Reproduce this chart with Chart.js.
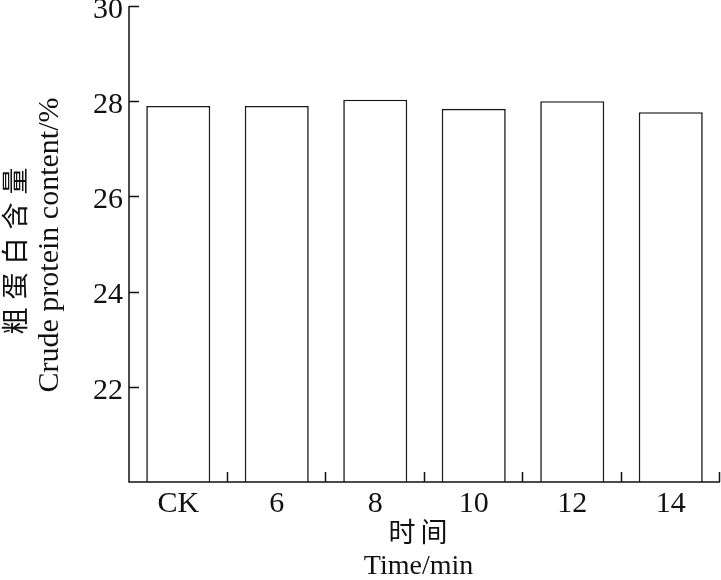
<!DOCTYPE html>
<html>
<head>
<meta charset="utf-8">
<script src="https://cdn.jsdelivr.net/npm/chart.js@4/dist/chart.umd.min.js"></script>
<style>
  html, body { margin: 0; padding: 0; background: #fff; }
  #wrap { width: 721px; height: 580px; }
</style>
</head>
<body>
<div id="wrap"><canvas id="c" width="721" height="580"></canvas></div>
<script>
const categories = ["CK", "6", "8", "10", "12", "14"];
const protein = [27.9, 27.9, 28.03, 27.84, 28.0, 27.77];
const yTicks = [22, 24, 26, 28, 30];

const serif = "'Liberation Serif', 'Noto Sans CJK SC', serif";
const ink = "#111";

// inward ticks, axis lines and the two-line titles
const axisDecor = {
  id: "axisDecor",
  afterDraw(chart) {
    const ctx = chart.ctx;
    const x = chart.scales.x, y = chart.scales.y;
    const area = chart.chartArea;
    ctx.save();
    ctx.strokeStyle = ink;
    ctx.lineWidth = 1.5;
    ctx.beginPath();
    ctx.moveTo(area.left, area.top);
    ctx.lineTo(area.left, area.bottom);
    ctx.lineTo(area.right, area.bottom);
    yTicks.forEach(v => {
      const py = Math.round(y.getPixelForValue(v)) + 0.5;
      ctx.moveTo(area.left, py);
      ctx.lineTo(area.left + 10, py);
    });
    const half = x.width / categories.length / 2;
    categories.forEach((c, i) => {
      const px = Math.round(x.getPixelForValue(i) + half) - 0.5;
      ctx.moveTo(px, area.bottom);
      ctx.lineTo(px, area.bottom - 10);
    });
    ctx.stroke();

    ctx.fillStyle = ink;
    ctx.textAlign = "center";
    ctx.textBaseline = "middle";
    const midX = (area.left + area.right) / 2 - 6;
    ctx.font = "27px " + serif;
    ctx.letterSpacing = "5px";
    ctx.fillText("时间", midX + 2, 535);
    ctx.letterSpacing = "0px";
    ctx.font = "28px " + serif;
    ctx.fillText("Time/min", midX, 567);

    ctx.translate(18, 251);
    ctx.rotate(-Math.PI / 2);
    ctx.font = "27px " + serif;
    ctx.letterSpacing = "8px";
    ctx.fillText("粗蛋白含量", 4, 0);
    ctx.restore();

    ctx.save();
    ctx.fillStyle = ink;
    ctx.textAlign = "center";
    ctx.textBaseline = "middle";
    ctx.translate(50, 245);
    ctx.rotate(-Math.PI / 2);
    ctx.font = "30px " + serif;
    ctx.fillText("Crude protein content/%", 0, 0);
    ctx.restore();
  }
};

new Chart(document.getElementById("c"), {
  type: "bar",
  data: {
    labels: categories,
    datasets: [{
      data: protein,
      backgroundColor: "#fff",
      borderColor: "#1a1a1a",
      borderWidth: 1.6,
      borderSkipped: false,
      categoryPercentage: 1,
      barPercentage: 0.65
    }]
  },
  options: {
    responsive: false,
    animation: false,
    events: [],
    layout: { padding: { top: 6, right: 1, left: 0, bottom: 0 } },
    plugins: { legend: { display: false }, tooltip: { enabled: false } },
    scales: {
      x: {
        grid: { display: false, drawTicks: false },
        border: { display: false },
        ticks: { color: ink, font: { family: serif, size: 30 }, padding: 4 },
        afterFit(s) { s.height = 98; s.paddingLeft = 0; s.paddingRight = 0; }
      },
      y: {
        min: 20,
        max: 30,
        grid: { display: false, drawTicks: false },
        border: { display: false },
        ticks: {
          stepSize: 2,
          color: ink,
          font: { family: serif, size: 30 },
          padding: 6,
          labelOffset: 4,
          callback: v => (v === 20 ? "" : v)
        },
        afterFit(s) { s.width = 129; s.paddingTop = 0; s.paddingBottom = 0; }
      }
    }
  },
  plugins: [axisDecor]
});
</script>
</body>
</html>
